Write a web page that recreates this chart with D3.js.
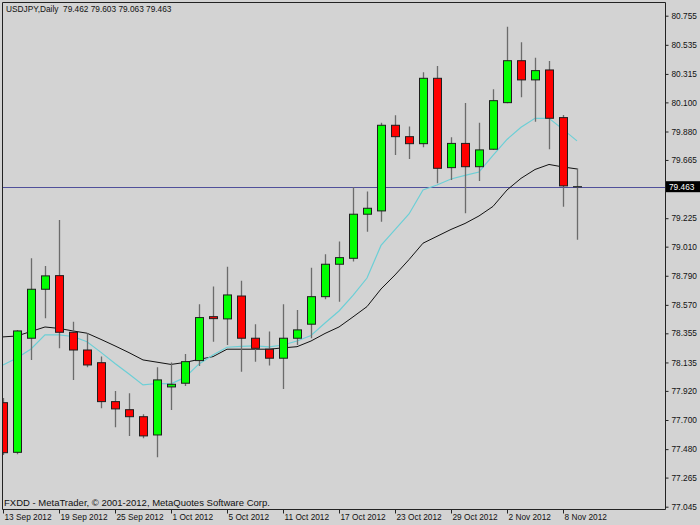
<!DOCTYPE html>
<html><head><meta charset="utf-8">
<script src="https://cdn.jsdelivr.net/npm/d3@7"></script>
<style>html,body{margin:0;padding:0;background:#d3d3d3;}svg{display:block;}</style>
</head><body>
<svg id="c" width="700" height="525"></svg>
<script>
const symbolTitle = "USDJPY,Daily";
const lastQuote = [79.462, 79.603, 79.063, 79.463];
const copyright = "FXDD - MetaTrader, \u00A9 2001-2012, MetaQuotes Software Corp.";

const dates = ["13 Sep","14 Sep","17 Sep","18 Sep","19 Sep","20 Sep","21 Sep","24 Sep","25 Sep","26 Sep","27 Sep","28 Sep",
  "1 Oct","2 Oct","3 Oct","4 Oct","5 Oct","8 Oct","9 Oct","10 Oct","11 Oct","12 Oct","15 Oct","16 Oct","17 Oct","18 Oct","19 Oct",
  "22 Oct","23 Oct","24 Oct","25 Oct","26 Oct","29 Oct","30 Oct","31 Oct","1 Nov","2 Nov","5 Nov","6 Nov","7 Nov","8 Nov","9 Nov"];

const open  = [77.831,77.456,78.318,78.688,78.791,78.363,78.229,78.133,77.839,77.778,77.725,77.587,
  77.950,77.978,78.149,78.481,78.464,78.637,78.318,78.235,78.167,78.318,78.424,78.632,78.877,78.922,79.255,
  79.280,79.927,79.841,79.788,80.282,79.607,79.790,79.614,79.746,80.098,80.415,80.270,80.345,79.985,79.462];
const high  = [77.867,78.380,78.922,78.864,79.212,78.443,78.356,78.179,77.920,77.902,77.744,78.099,
  78.135,78.199,78.575,78.708,78.859,78.753,78.424,78.368,78.575,78.532,78.851,78.953,79.048,79.459,79.426,
  79.947,80.003,79.917,80.328,80.375,79.837,80.096,79.947,80.199,80.672,80.554,80.438,80.413,80.005,79.603];
const low   = [77.436,77.441,78.154,78.469,78.242,78.003,78.099,77.789,77.645,77.580,77.562,77.419,
  77.776,77.957,78.109,78.292,78.267,78.065,78.141,78.111,77.935,78.267,78.318,78.613,78.594,78.897,79.123,
  79.199,79.703,79.673,79.761,79.489,79.514,79.262,79.506,79.741,80.094,80.139,79.954,79.746,79.312,79.063];
const close = [77.453,78.373,78.688,78.789,78.363,78.229,78.116,77.839,77.784,77.725,77.580,78.003,
  77.970,78.141,78.474,78.466,78.645,78.318,78.242,78.167,78.318,78.381,78.632,78.877,78.927,79.255,79.300,
  79.927,79.841,79.788,80.282,79.602,79.790,79.614,79.741,80.113,80.415,80.270,80.340,79.980,79.469,79.463];

const maFast = [78.116,78.169,78.237,78.343,78.343,78.331,78.292,78.211,78.127,78.047,77.965,77.976,
  77.973,78.022,78.124,78.192,78.250,78.256,78.260,78.252,78.267,78.297,78.339,78.433,78.524,78.641,78.773,
  79.019,79.138,79.257,79.438,79.476,79.521,79.548,79.574,79.700,79.820,79.912,79.980,79.979,79.896,79.809];
const maSlow = [78.328,78.335,78.369,78.403,78.392,78.373,78.356,78.309,78.260,78.209,78.154,78.137,
  78.120,78.135,78.158,78.179,78.235,78.235,78.235,78.235,78.245,78.254,78.297,78.354,78.403,78.479,78.557,
  78.690,78.796,78.912,79.036,79.088,79.140,79.185,79.242,79.314,79.438,79.526,79.593,79.631,79.612,79.597];

// 79.445 is hidden behind the current-price label in the reference
const priceTicks = ["80.755","80.535","80.315","80.100","79.880","79.665","79.225","79.010",
  "78.790","78.570","78.355","78.135","77.920","77.700","77.480","77.265","77.045"];
const dateTicks = ["13 Sep","19 Sep","25 Sep","1 Oct","5 Oct","11 Oct","17 Oct","23 Oct","29 Oct","2 Nov","8 Nov"];
const year = "2012";
const currentPrice = 79.463;

(function () {
const W = 700, H = 525;
const pL = 2.5, pT = 2.5, pR = 665.5, pB = 509.5;
const FONT = "'Liberation Sans', Arial, sans-serif";

const svg = d3.select("#c");
svg.append("rect").attr("width", W).attr("height", H).attr("fill", "#d3d3d3");

const x = d3.scaleLinear().domain([0, dates.length - 1]).range([3, 577]);
const y = d3.scaleLinear().domain([77.045, 80.755]).range([506.7, 15.7]);

const bars = dates.map((d, i) => ({i, d, o: open[i], h: high[i], l: low[i], c: close[i]}));

svg.append("clipPath").attr("id", "clip").append("rect")
  .attr("x", pL).attr("y", pT).attr("width", pR - pL).attr("height", pB - pT);
const g = svg.append("g").attr("clip-path", "url(#clip)");

// current price line
const cyl = Math.round(y(currentPrice)) + 0.5;
g.append("line").attr("x1", pL).attr("x2", pR).attr("y1", cyl).attr("y2", cyl)
  .attr("stroke", "#50509a").attr("stroke-width", 1);

// moving averages
const lineGen = arr => d3.line().x((d, i) => x(i)).y(d => y(d))(arr);
g.append("path").attr("d", lineGen(maSlow)).attr("fill", "none").attr("stroke", "#111").attr("stroke-width", 1);
g.append("path").attr("d", lineGen(maFast)).attr("fill", "none").attr("stroke", "#6ccfd6").attr("stroke-width", 1.2);

// wicks
g.selectAll("line.wick").data(bars).join("line").attr("class", "wick")
  .attr("x1", d => Math.round(x(d.i)) + 0.5).attr("x2", d => Math.round(x(d.i)) + 0.5)
  .attr("y1", d => y(d.h)).attr("y2", d => y(d.l))
  .attr("stroke", "#6b6b6b").attr("stroke-width", 1.3);

// bodies
g.selectAll("rect.body").data(bars).join("rect").attr("class", "body")
  .attr("x", d => Math.round(x(d.i)) - 3.5)
  .attr("width", 8)
  .attr("y", d => y(Math.max(d.o, d.c)))
  .attr("height", d => Math.max(0.01, Math.abs(y(d.o) - y(d.c))))
  .attr("fill", d => d.c >= d.o ? "#00ff00" : "#ff0000")
  .attr("stroke", "#1e1e1e").attr("stroke-width", 1);

// frame
svg.append("path")
  .attr("d", `M${pL},${pB}V${pT}H${pR}V${pB}H${pL}`)
  .attr("fill", "none").attr("stroke", "#222").attr("stroke-width", 1);

// right axis
const yAxis = d3.axisRight(y)
  .tickValues(priceTicks.map(Number))
  .tickFormat((d, i) => priceTicks[i])
  .tickSize(3).tickPadding(3);
const ya = svg.append("g").attr("transform", `translate(${pR},0)`).call(yAxis);
ya.select(".domain").remove();
ya.selectAll("line").attr("stroke", "#222");
ya.selectAll("text").attr("font-family", FONT).attr("font-size", "8.3px").attr("fill", "#111");

// bottom axis
const tickIdx = dateTicks.map(t => dates.indexOf(t));
const xAxis = d3.axisBottom(x)
  .tickValues(tickIdx)
  .tickFormat(i => dates[i] + " " + year)
  .tickSize(4).tickPadding(1);
const xa = svg.append("g").attr("transform", `translate(0,${pB})`).call(xAxis);
xa.select(".domain").remove();
xa.selectAll("line").attr("stroke", "#222");
xa.selectAll("text").attr("font-family", FONT).attr("font-size", "8.3px").attr("fill", "#111")
  .attr("text-anchor", "start").attr("dx", "1px");

// current price label
const cy = y(currentPrice);
svg.append("rect").attr("x", 666).attr("y", cy - 5.5).attr("width", 34).attr("height", 11).attr("fill", "#000");
svg.append("text").attr("x", 669).attr("y", cy + 3).attr("font-family", FONT).attr("font-size", "8.3px")
  .attr("fill", "#fff").text(currentPrice.toFixed(3));

// title
svg.append("text").attr("x", 6).attr("y", 11.5).attr("font-family", FONT).attr("font-size", "8.3px")
  .attr("fill", "#111").attr("xml:space", "preserve")
  .text(symbolTitle + "  " + lastQuote.map(v => v.toFixed(3)).join(" "));

// copyright
svg.append("text").attr("x", 4).attr("y", 506).attr("font-family", FONT).attr("font-size", "9.5px")
  .attr("fill", "#111").text(copyright);
})();
</script>
</body></html>
